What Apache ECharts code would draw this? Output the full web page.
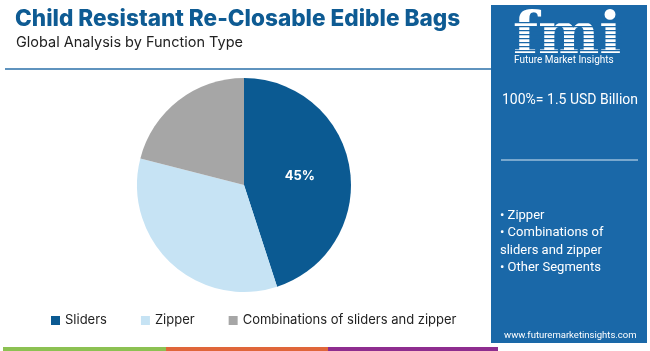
<!DOCTYPE html>
<html>
<head>
<meta charset="utf-8">
<script src="https://cdn.jsdelivr.net/npm/echarts@6/dist/echarts.min.js"></script>
<style>
  html, body { margin: 0; padding: 0; background: #fff; }
  #chart { width: 650px; height: 351px; }
</style>
</head>
<body>
<div id="chart"></div>
<script>
const categories = ['Sliders', 'Zipper', 'Combinations of sliders and zipper'];
const shares = [45, 34, 21];
const colors = ['#0b5a92', '#c6e3f4', '#a6a6a6'];
const bullets = ['• Zipper', '• Combinations of', 'sliders and zipper', '• Other Segments'];

const chart = echarts.init(document.getElementById('chart'));
const panel = '#1a68a8';
const font = 'Inter, "Noto Sans", sans-serif';
const panelFont = 'Roboto, "Noto Sans", sans-serif';

// stripes over the logo letters
const stripes = [];
for (let y = 22; y < 56; y += 4) {
  stripes.push({ type: 'rect', shape: { x: 512, y: y, width: 110, height: 1.3 }, style: { fill: panel }, z: 12 });
}

const option = {
  animation: false,
  title: [
    { text: 'Child Resistant Re-Closable Edible Bags', left: 10, top: 3,
      textStyle: { fontFamily: font, fontWeight: 800, fontSize: 22.6, color: '#0e5b93' } },
    { text: 'Global Analysis by Function Type', left: 11, top: 30,
      textStyle: { fontFamily: font, fontWeight: 400, fontSize: 14.5, color: '#222' } }
  ],
  legend: {
    data: categories,
    left: 46, top: 309,
    itemWidth: 9, itemHeight: 9, itemGap: 34,
    icon: 'rect',
    textStyle: { fontFamily: font, fontSize: 13, color: '#222' }
  },
  graphic: [
    { type: 'line', shape: { x1: 5, y1: 69, x2: 492, y2: 69 }, style: { stroke: '#2a6fa8', lineWidth: 1.5 } },
    { type: 'rect', shape: { x: 491, y: 5, width: 156, height: 338 }, style: { fill: panel }, z: 10 },
    { type: 'text', left: 513, top: 9, style: { text: 'fmi', font: 'bold 58px "DejaVu Serif", serif', fill: '#fff' }, z: 11 },
    ...stripes,
    { type: 'text', left: 514, top: 55, style: { text: 'Future Market Insights', font: '10px ' + panelFont, fill: '#fff' }, z: 13 },
    { type: 'text', left: 502, top: 93, style: { text: '100%= 1.5 USD Billion', font: '14px ' + panelFont, fill: '#fff' }, z: 13 },
    { type: 'line', shape: { x1: 501, y1: 160, x2: 638, y2: 160 }, style: { stroke: '#d8e8f4', lineWidth: 1 }, z: 13 },
    ...bullets.map((b, i) => ({
      type: 'text', left: 500, top: 209 + i * 17.5,
      style: { text: b, font: '13px ' + panelFont, fill: '#fff' }, z: 13
    })),
    { type: 'text', left: 504, top: 331, style: { text: 'www.futuremarketinsights.com', font: '9.5px ' + panelFont, fill: '#fff' }, z: 13 },
    { type: 'rect', shape: { x: 3, y: 347, width: 163, height: 4 }, style: { fill: '#8cc152' } },
    { type: 'rect', shape: { x: 166, y: 347, width: 162, height: 4 }, style: { fill: '#e0663a' } },
    { type: 'rect', shape: { x: 328, y: 347, width: 170, height: 4 }, style: { fill: '#8e2d8f' } }
  ],
  series: [{
    type: 'pie',
    center: [244, 185],
    radius: 107,
    startAngle: 90,
    clockwise: true,
    color: colors,
    label: {
      show: true,
      position: 'inside',
      fontFamily: font,
      fontWeight: 'bold',
      fontSize: 13,
      color: '#fff',
      formatter: p => p.dataIndex === 0 ? p.value + '%' : ''
    },
    labelLine: { show: false },
    itemStyle: { borderWidth: 0 },
    emphasis: { disabled: true },
    data: categories.map((c, i) => ({ name: c, value: shares[i] }))
  }]
};

chart.setOption(option);
</script>
</body>
</html>
